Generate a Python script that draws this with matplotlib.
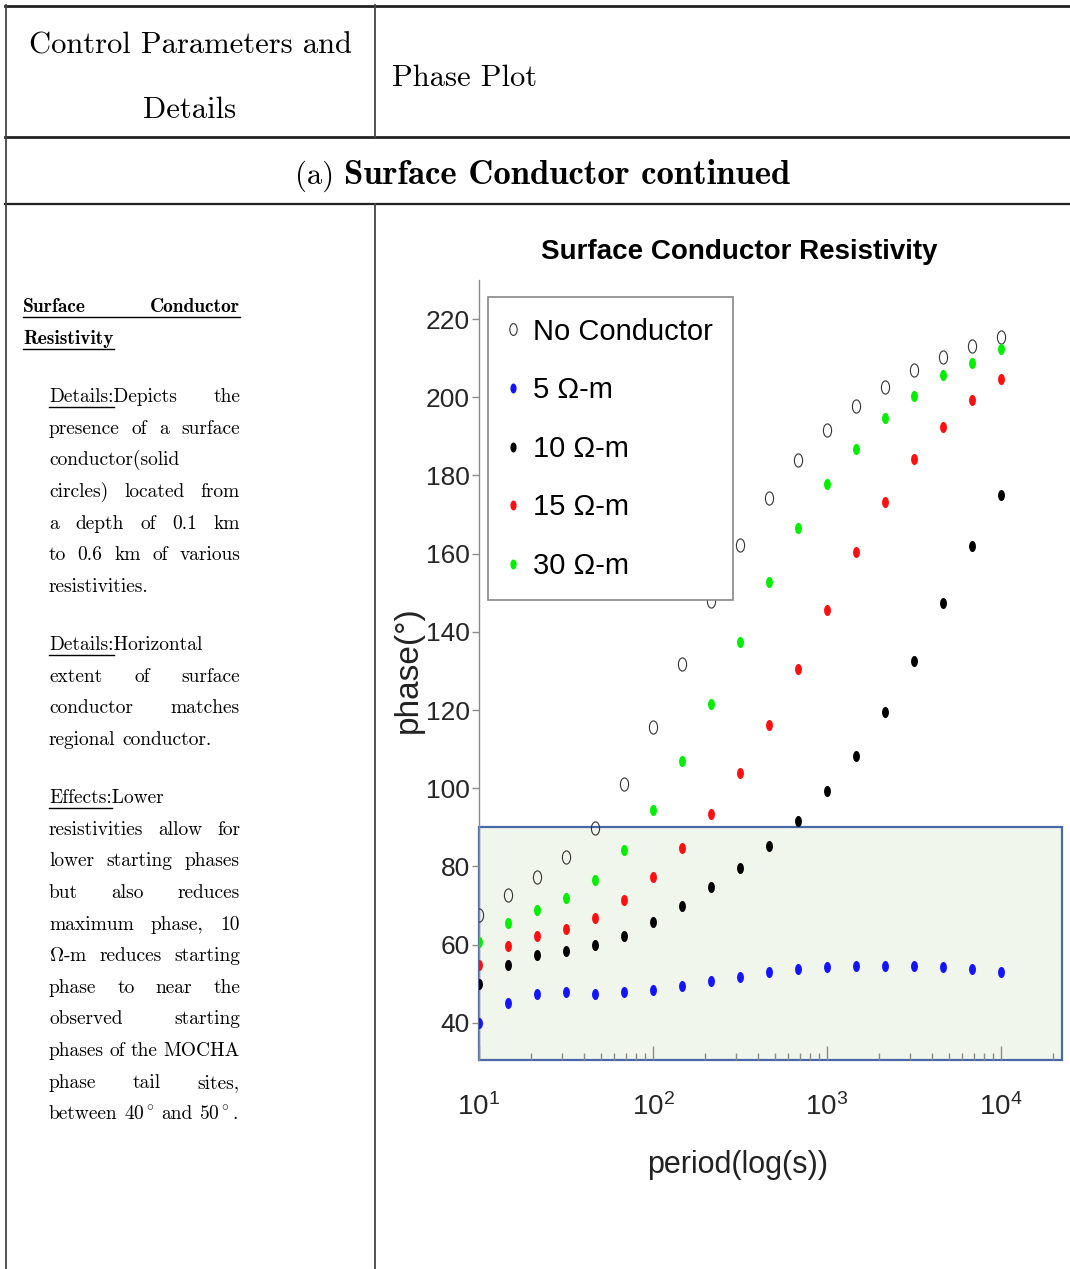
import matplotlib.pyplot as plt
from matplotlib.lines import Line2D
from matplotlib.path import Path
from matplotlib.transforms import Affine2D

# period (s) of each modelled response
periods = [10, 14.7, 21.5, 31.6, 46.4, 68.1, 100, 147, 215, 316, 464, 681,
           1000, 1468, 2154, 3162, 4642, 6813, 10000]

# phase (degrees) for each surface conductor resistivity
phase_none = [67.6, 72.8, 77.3, 82.4, 89.9, 101.2, 115.6, 131.8, 147.9, 162.3,
              174.3, 184.0, 191.6, 197.7, 202.6, 207.0, 210.4, 213.1, 215.5]
phase_5 = [39.9, 45.0, 47.4, 47.8, 47.4, 47.8, 48.3, 49.5, 50.7, 51.8,
           52.9, 53.7, 54.2, 54.6, 54.6, 54.6, 54.2, 53.7, 52.9]
phase_10 = [50.0, 54.8, 57.4, 58.4, 59.9, 62.3, 65.7, 70.0, 74.8, 79.6,
            85.3, 91.7, 99.4, 108.3, 119.4, 132.6, 147.3, 162.0, 175.0]
phase_15 = [54.8, 59.7, 62.3, 64.1, 66.8, 71.3, 77.3, 84.7, 93.4, 103.8,
            116.2, 130.5, 145.6, 160.5, 173.3, 184.1, 192.5, 199.3, 204.7]
phase_30 = [60.8, 65.6, 68.9, 71.9, 76.6, 84.1, 94.5, 106.9, 121.6, 137.3,
            152.7, 166.5, 177.8, 186.9, 194.6, 200.3, 205.7, 208.8, 212.3]

labels = ["No Conductor", "5 Ω-m", "10 Ω-m", "15 Ω-m", "30 Ω-m"]
y_ticks = [40, 60, 80, 100, 120, 140, 160, 180, 200, 220]
x_ticks = [10, 100, 1000, 10000]
phase_tail_top = 90

plt.rcParams['font.family'] = ['Liberation Sans', 'DejaVu Sans']

W, H = 1070, 1269
fig = plt.figure(figsize=(W / 100, H / 100), dpi=100)


def fx(x):
    return x / W


def fy(y):
    return 1 - y / H


def hline(y, x0, x1, lw=1.5, color='#222222'):
    fig.add_artist(Line2D([fx(x0), fx(x1)], [fy(y), fy(y)],
                          transform=fig.transFigure, lw=lw, color=color))


def vline(x, y0, y1, lw=1.3, color='#444444'):
    fig.add_artist(Line2D([fx(x), fx(x)], [fy(y0), fy(y1)],
                          transform=fig.transFigure, lw=lw, color=color))


# table frame
hline(6, 5, W, lw=2)
hline(137, 5, W, lw=2)
hline(204, 5, W, lw=1.6)
vline(6, 5, H)
vline(375, 5, 137)
vline(375, 204, H)

serif = dict(family='cmr10', math_fontfamily='cm', color='black')
serif_bold = dict(family='cmb10', math_fontfamily='cm', color='black')

fig.text(fx(190), fy(53), "Control Parameters and", ha='center', va='baseline', fontsize=22, **serif)
fig.text(fx(190), fy(118), "Details", ha='center', va='baseline', fontsize=22, **serif)
fig.text(fx(392), fy(86), "Phase Plot", ha='left', va='baseline', fontsize=22, **serif)

renderer = fig.canvas.get_renderer()


def measure(s, **kw):
    t = fig.text(0, 0, s, **kw)
    w = t.get_window_extent(renderer).width
    t.remove()
    return w


# section title: "(a)" upright, the rest bold
w_a = measure("(a) ", fontsize=22, **serif)
w_b = measure("Surface Conductor continued", fontsize=25, **serif_bold)
x_start = 543 - (w_a + w_b) / 2
fig.text(fx(x_start), fy(184), "(a)", ha='left', va='baseline', fontsize=22, **serif)
fig.text(fx(x_start + w_a), fy(184), "Surface Conductor continued", ha='left',
         va='baseline', fontsize=25, **serif_bold)


def put_line(text, y, x0, x1, justify, underline=None, underline_all=False, **kw):
    words = text.split(' ')
    widths = [measure(w, **kw) for w in words]
    if justify and len(words) > 1:
        gap = (x1 - x0 - sum(widths)) / (len(words) - 1)
    else:
        gap = measure('a b', **kw) - measure('ab', **kw)
    x = x0
    for w, wd in zip(words, widths):
        fig.text(fx(x), fy(y), w, ha='left', va='baseline', **kw)
        x += wd + gap
    if underline_all:
        hline(y + 5, x0, x - gap, lw=1.0, color='black')
    elif underline:
        hline(y + 5, x0, x0 + measure(underline, **kw), lw=1.0, color='black')


put_line("Surface Conductor", 312, 23, 240, True, underline_all=True, fontsize=14, **serif_bold)
put_line("Resistivity", 344, 23, 240, False, underline_all=True, fontsize=14, **serif_bold)

paragraphs = [
    [("Details:Depicts the", True), ("presence of a surface", True),
     ("conductor(solid", False), ("circles) located from", True),
     ("a depth of 0.1 km", True), ("to 0.6 km of various", True),
     ("resistivities.", False)],
    [("Details:Horizontal", False), ("extent of surface", True),
     ("conductor matches", True), ("regional conductor.", False)],
    [("Effects:Lower", False), ("resistivities allow for", True),
     ("lower starting phases", True), ("but also reduces", True),
     ("maximum phase, 10", True), (r"$\Omega$-m reduces starting", True),
     ("phase to near the", True), ("observed starting", True),
     ("phases of the MOCHA", True), ("phase tail sites,", True),
     (r"between 40$^\circ$ and 50$^\circ$.", False)],
]

y = 402
for para in paragraphs:
    for i, (line, just) in enumerate(para):
        ul = None
        if i == 0:
            ul = line.split(':')[0] + ':'
        put_line(line, y, 49, 240, just, underline=ul, fontsize=14, **serif)
        y += 31.65
    y += 26.4

# phase plot
ax = fig.add_axes([fx(479), fy(1060), (1062 - 479) / W, (1060 - 280) / H])
ax.set_xscale('log')
y_lo = 30.5
ax.axhspan(y_lo, phase_tail_top, facecolor='#f1f6ec', edgecolor='#4a68a8',
           lw=1.6, zorder=0.6, clip_on=False)

dot = Path.unit_circle().transformed(Affine2D().scale(0.62, 1.0))
ax.plot(periods, phase_none, ls='none', marker=dot, ms=9.5, mfc='none',
        mec='#333333', mew=0.8, label=labels[0], zorder=3)
for vals, col, lab in [(phase_5, '#1414ff', labels[1]), (phase_10, '#000000', labels[2]),
                       (phase_15, '#ff1010', labels[3]), (phase_30, '#00f000', labels[4])]:
    ax.plot(periods, vals, ls='none', marker=dot, ms=8, mfc=col, mec=col,
            mew=0, label=lab, zorder=3)

ax.set_xlim(10, 22400)
ax.set_ylim(y_lo, 230)
ax.set_yticks(y_ticks)
ax.set_xticks(x_ticks)

for side in ['top', 'right', 'bottom']:
    ax.spines[side].set_visible(False)
ax.spines['left'].set_color('#8a8a8a')
ax.spines['left'].set_linewidth(1)

ax.tick_params(axis='y', direction='out', length=5, width=1, color='#8a8a8a',
               pad=1.5, labelsize=19, labelcolor='#262626')
ax.tick_params(axis='x', which='major', direction='in', length=10, width=1,
               color='#8a8a8a', pad=24, labelsize=20, labelcolor='#262626')
ax.tick_params(axis='x', which='minor', direction='in', length=5, width=1,
               color='#8a8a8a')

ax.set_xlabel('period(log(s))', fontsize=22, color='#222222')
ax.xaxis.set_label_coords(0.444, -0.116)
ax.set_ylabel('phase(°)', fontsize=24, color='#222222')
ax.yaxis.set_label_coords(-0.095, 0.5)

fig.text(fx(739), fy(259), 'Surface Conductor Resistivity', ha='center',
         va='baseline', fontsize=20, fontweight='bold', color='black')

ax.legend(loc='upper left', bbox_to_anchor=(0.0154, 0.978), borderaxespad=0,
          fontsize=21, frameon=True, fancybox=False, edgecolor='#888888',
          framealpha=1, borderpad=0.7, handlelength=0.3, handletextpad=0.55,
          labelspacing=1.05, markerscale=0.9)
ax.get_legend().get_frame().set_linewidth(1.2)

fig.savefig('out.png', dpi=100)
